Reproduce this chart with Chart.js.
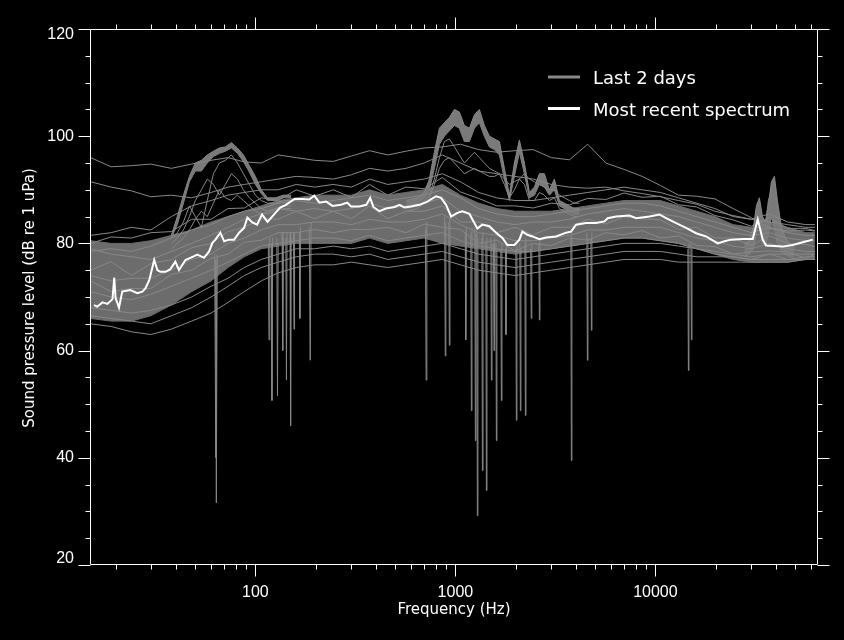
<!DOCTYPE html>
<html><head><meta charset="utf-8">
<script src="https://cdn.jsdelivr.net/npm/chart.js@4.4.1/dist/chart.umd.min.js"></script>
<style>html,body{margin:0;padding:0;background:#000;}#wrap{width:844px;height:640px;}</style>
</head><body><div id="wrap"><canvas id="c" width="844" height="640"></canvas></div>
<script>
// ---------- axis ticks ----------
const xTickValues = [100, 1000, 10000];
const xTickLabels = ['100', '1000', '10000'];
const yTickValues = [20, 40, 60, 80, 100, 120];
const yTickLabels = ['20', '40', '60', '80', '100', '120'];
const xTitle = 'Frequency (Hz)';
const yTitle = 'Sound pressure level (dB re 1 uPa)';
const legendLabels = ['Last 2 days', 'Most recent spectrum'];

// ---------- most recent spectrum ----------
const recentFreq = [15.6, 16.2, 17.2, 18.2, 19.3, 19.7, 20.0, 20.8, 21.6, 23.7, 25.7, 27.2, 28.2, 29.5, 31.2, 32.4, 33.5, 35.5, 37.6, 39.8, 41.5, 44.7, 47.3, 51.3, 55.4, 58.7, 61, 63.1, 66.8, 69.8, 73.9, 78.3, 82.9, 87.8, 91.2, 96.6, 102, 108, 115, 126, 133, 142, 157, 172, 186, 197, 209, 226, 243, 268, 288, 301, 331, 359, 375, 389, 417, 450, 496, 525, 556, 600, 661, 724, 801, 848, 898, 952, 1023, 1084, 1175, 1288, 1365, 1479, 1598, 1718, 1820, 1972, 2089, 2163, 2291, 2427, 2630, 2841, 3188, 3577, 3789, 4014, 4503, 5052, 5559, 5774, 6361, 7413, 8009, 9333, 10470, 11310, 12690, 14240, 15980, 17930, 20490, 22130, 23910, 27330, 30660, 32480, 34410, 35780, 43300, 48590, 54530, 61180];
const recentLevel = [68.5, 68.2, 69, 68.7, 69.6, 73.6, 69.8, 68, 71, 71.3, 70.7, 71, 71.6, 73.2, 76.9, 75, 74.7, 74.7, 75.2, 76.6, 75, 76.9, 77.3, 77.9, 77.3, 78.5, 80.1, 80.7, 82, 80.4, 80.7, 80.7, 82, 82.9, 84.8, 83.9, 83.5, 85.4, 84, 85.7, 86.7, 87.2, 88.3, 88.3, 88.2, 88.9, 87.6, 87.8, 87, 87.2, 87.6, 86.9, 86.9, 87.2, 88.5, 86.8, 86, 86.5, 86.8, 87.2, 86.7, 86.9, 87.2, 87.8, 88.8, 88.5, 87.2, 85, 85.7, 86, 85.5, 82.8, 83.5, 83.2, 82, 81, 79.7, 79.7, 80.7, 82.2, 81.6, 81.3, 80.8, 81.1, 81.3, 82, 82.2, 83.5, 83.8, 83.8, 84.1, 84.7, 85, 85.2, 84.7, 85, 85.4, 84.7, 83.8, 82.9, 81.9, 81.3, 80, 80.4, 80.7, 80.8, 80.8, 84.5, 80.7, 79.6, 79.4, 79.7, 80.2, 80.7];

// ---------- last 2 days: broadband spectra on a common grid ----------
const gridFreq = [15, 19, 24, 30, 38, 48, 60, 73, 88, 107, 130, 160, 198, 245, 302, 372, 459, 566, 698, 860, 1060, 1307, 1611, 1986, 2448, 3018, 3720, 4586, 5653, 6968, 8590, 10590, 13050, 16090, 19840, 24460, 30150, 37170, 45820, 56490, 62720];
const dayA = [96, 94.3, 94.5, 94.8, 94, 94.8, 95.5, 96, 95.2, 95, 96.5, 96, 95.5, 95.3, 96.3, 97.3, 96.5, 97.2, 97.8, 98, 98.5, 97.5, 97, 97.3, 97.5, 96, 95.6, 98.5, 95, 93.8, 92.5, 90.8, 89, 88.8, 88.3, 86.5, 84.8, 82.8, 82.3, 82.5, 82.3];
const dayB = [91.5, 90.5, 89.8, 88.7, 89, 88.5, 89.5, 90.5, 91, 91.5, 92, 92.5, 92.3, 92, 92.8, 94, 93.5, 94, 95, 96.5, 95, 93.5, 93, 92.5, 92, 91, 90.5, 90.3, 90.5, 89.8, 89.3, 88.7, 88, 87.3, 86, 85.2, 84.5, 84, 83.5, 83, 83];
const dayU1 = [81.5, 82, 83, 82.5, 85, 87, 88, 89, 89.5, 90, 90, 91, 90.5, 91, 90.5, 92, 91, 91.5, 92, 93, 91.5, 89.5, 88.5, 88, 88, 88.5, 89, 89.5, 90, 90.5, 90, 89.5, 88.5, 87.5, 86.5, 85, 84.5, 85.5, 84, 83.5, 83.5];
const dayM1 = [80, 81.2, 81, 82, 82.2, 84.5, 84.5, 86.5, 86.6, 88.5, 88, 90, 88.8, 90, 88.6, 91, 89, 90.5, 90.2, 92.3, 89.6, 88.4, 87, 87, 86.6, 87.5, 87.2, 88.4, 88.2, 89.4, 88.6, 88.8, 87.2, 86.8, 85.2, 84.4, 83.2, 84.8, 82.8, 82.8, 82.4];
const dayM2 = [78.5, 79, 78.5, 79.5, 81, 82.5, 83.5, 85, 86, 86.5, 87.5, 88, 87.5, 88, 88.5, 89, 88, 88.5, 89, 90, 88.5, 86.5, 85.5, 85, 85, 85.5, 86, 86.5, 87, 87.5, 87.5, 87, 86, 85, 84, 83, 82, 83, 82, 81.5, 81.5];
const dayM3 = [79, 78, 77.5, 77, 78.5, 80, 81.5, 83, 84.5, 85.5, 86.5, 86, 86.5, 86, 86.5, 87.5, 86.5, 87, 87.5, 88.5, 86, 85, 84, 83.5, 84, 84, 84.5, 85.5, 86, 86.5, 86, 85.5, 85, 84, 83, 82, 81.5, 82, 81, 80.5, 80.5];
const dayM4 = [75, 76.6, 74, 76.2, 77, 79.2, 80, 82.2, 83, 84.6, 84.5, 86, 84.6, 86, 84.6, 87, 84.6, 86, 86, 87, 84, 84, 82, 83, 81.6, 83, 83, 84.5, 83.6, 85, 84.6, 84.4, 82.6, 83, 81, 81, 79.6, 81.4, 80, 79.8, 79.4];
const dayM5 = [74, 73, 73.5, 73.5, 75, 77, 78, 80, 81, 82.5, 83.5, 83.5, 84, 84, 83.5, 84.5, 84, 84, 84.5, 85.5, 83.5, 82, 81.5, 80.5, 80.5, 81, 81.5, 82.5, 82.5, 83, 83, 83, 82, 81, 80.5, 79.5, 79, 80, 79, 78.5, 78.5];
const dayM6 = [73, 71, 71.6, 71.6, 74.2, 75, 77.2, 78, 80.2, 80.6, 82, 82, 82.6, 82, 82.6, 82.6, 83, 82, 83.6, 83, 82.6, 80, 80.6, 78.6, 80, 79.6, 81, 80.6, 82, 81.6, 82.4, 81, 81.4, 79.6, 79.4, 78, 78.4, 78.6, 78.4, 77.2, 78];
const dayM7 = [71, 70, 69.5, 70.5, 72, 73.5, 75, 76.5, 78, 79.5, 80, 80.5, 81, 81, 80.5, 81.5, 80.5, 81, 81.5, 82, 80.5, 79.5, 79, 78.5, 78.5, 79, 79.5, 80, 80.5, 81, 81, 80.5, 80, 79, 78, 77.5, 77, 78, 77, 77, 77];
const dayL1 = [65, 64.5, 63.5, 63, 64, 65.5, 67, 69, 71, 73, 74.5, 75.5, 76, 76, 76.5, 76, 75.5, 76, 76.5, 77, 76, 75, 74.5, 74, 74.5, 75, 75.5, 76, 76.5, 77, 77, 77, 76.5, 76.5, 76.5, 76.5, 76.5, 76.5, 76.5, 77, 77];
const dayL2 = [66.5, 66, 65.5, 65, 66.5, 68, 70, 72, 74, 75.5, 76.5, 77.5, 78, 78, 77.5, 78, 77, 77.5, 78, 78.5, 77.5, 76.5, 76, 75.5, 76, 76.5, 77, 77.5, 78, 78.5, 78.5, 78.5, 78, 77.5, 77.5, 77.5, 77, 77, 77, 77.5, 77.5];
const dayL3 = [68, 67.5, 67, 67.5, 68.5, 70, 72, 73.5, 75.5, 77, 78, 79, 79, 79.5, 79, 79.5, 78.5, 79, 79.5, 80, 79, 78, 77.5, 77, 77.5, 78, 78.5, 79, 79.5, 80, 80, 80, 79.5, 79, 78.5, 78, 77.5, 78, 78, 78, 78];
const bandTop = [80.5, 80, 80, 80.5, 81.5, 82.5, 84, 85, 86, 87, 88, 88.5, 89, 89, 89, 90, 89, 89.5, 90, 91, 89, 87.5, 86.5, 86, 86, 86, 86.5, 87, 87.5, 88, 88, 88, 87, 86, 85, 83.5, 83, 84, 83, 82, 82];
const bandBottom = [66, 65.5, 65.5, 66.5, 68.5, 71, 73, 75.5, 77.5, 79, 79.5, 80, 80, 80, 80, 81, 80, 80.5, 81, 80, 79.5, 79, 78.5, 78, 78.5, 79, 79.5, 80, 80.5, 81, 81, 80.5, 80, 79, 78, 77, 76.5, 76.5, 76.5, 77, 77];

// ---------- 60-90 Hz hump ----------
const humpFreq = [38, 40.7, 43.7, 46.8, 50.1, 53.7, 57.5, 61.7, 66.1, 70.8, 75.9, 81.3, 87.1, 93.3, 100, 107, 115, 126, 138, 151];
const humpH1 = [81.5, 85, 89, 92.5, 95, 95.5, 96.5, 97.2, 97.8, 98, 98.8, 97.8, 96.5, 94.5, 92.5, 90, 88.5, 88.5, 89, 89];
const humpH2 = [81, 83.5, 87.5, 91.5, 93.5, 93.5, 95, 96.2, 96.8, 97.2, 97.8, 96.8, 95.3, 93.3, 91, 89.3, 88, 88, 88.5, 88.5];
const humpH3 = [81, 82, 84, 87, 85, 83, 88, 93, 95, 95.5, 96.5, 95, 93, 91, 89, 88, 87.5, 87.5, 88, 88];
const humpH4 = [80, 81, 82.5, 85, 88, 90, 92, 91, 89, 91, 93, 92, 90, 88.5, 87.5, 86.5, 86, 86.5, 87, 87];
const humpH5 = [79, 80, 81, 82.5, 84.5, 86, 85, 87.5, 90, 88.5, 88, 89, 88, 87, 86, 85.5, 85.5, 86, 86.5, 86.5];

// ---------- 0.6-4 kHz hump ----------
const midFreq = [569, 646, 700, 741, 785, 832, 881, 933, 989, 1047, 1109, 1175, 1245, 1318, 1396, 1479, 1567, 1660, 1758, 1862, 1972, 2089, 2213, 2344, 2483, 2630, 2786, 2951, 3126, 3311, 3508, 3715, 3936, 4169];
const midW1 = [88, 88.5, 89.5, 92, 97, 101.5, 102.5, 103.5, 105, 104.5, 102, 101.5, 104, 105, 102, 100, 99.5, 99, 94, 89, 95, 99.3, 95, 89.5, 90.5, 93, 93, 90, 92, 88, 87.5, 87, 86.5, 86.5];
const midW2 = [87.5, 88, 89, 91, 95.5, 100.5, 102, 103, 104, 103.5, 101, 100.5, 103, 104, 101, 99, 98.5, 98, 93, 88.5, 94, 98.5, 94, 89, 90, 92, 92, 89.5, 91, 87.5, 87, 86.5, 86, 86];
const midW3 = [87, 87.5, 88.5, 90, 94, 98.5, 100, 101, 102, 101.5, 99, 99, 101.5, 102.5, 100, 98, 97.5, 96.5, 92, 88, 92.5, 97, 93, 88.5, 89, 91, 90.5, 89, 90, 87, 86.5, 86, 85.5, 85.5];
const midW4 = [86.5, 87, 88, 89, 92, 96, 99, 99.5, 98, 96.5, 95, 96, 97, 96, 95, 94, 93.5, 93, 91, 88.5, 90, 92, 91, 88, 88, 89.5, 89, 88, 88.5, 86.5, 86, 85.5, 85, 85];
const midW5 = [86, 86.5, 87.5, 88.5, 91, 94, 95.5, 96, 95, 94, 93, 93.5, 94, 93.5, 93, 92.5, 92.5, 93, 92, 91, 91.5, 92, 93, 92, 91.5, 91, 90.5, 90, 90, 89, 88.5, 88, 87.5, 87.5];

// ---------- 30-50 kHz tonal peak ----------
const spikeFreq = [27860, 29510, 30900, 31990, 33110, 34280, 35480, 36730, 38020, 39360, 40740, 42660, 44670, 46770, 49550];
const spikeS1 = [80, 80.5, 83, 87, 88.5, 85, 84, 87, 91.5, 92.5, 88, 83, 81, 80, 79.5];
const spikeS2 = [79.5, 80, 82, 86, 87.5, 83, 83.5, 88, 90, 89, 85, 81, 80, 79.5, 79];
const spikeS3 = [78.5, 79, 80.5, 84, 86, 82, 82, 85, 88, 86, 82.5, 80, 79, 78.5, 78.5];
const spikeS4 = [77.5, 78, 79, 82, 84, 80, 79.5, 82, 85, 83, 80, 78.5, 78, 77.5, 77.5];

// ---------- narrow dropouts (null = break) ----------
const dipFreq = [63.2, 63.8, 64.4, 64, 62.6, 63.4, 64.2, 64, 120, 121, 122, 122, 128, 129, 130, 130, 136, 137, 138, 138, 142, 143, 144, 144, 149, 150, 151, 151, 186, 188, 190, 190, 116, 117, 118, 118, 155, 156, 157, 157, 166, 167, 168, 168, 708, 714, 720, 720, 884, 890, 896, 896, 927, 933, 939, 939, 1120, 1127, 1134, 1134, 1194, 1202, 1210, 1210, 1251, 1259, 1267, 1267, 1280, 1288, 1296, 1296, 1356, 1365, 1374, 1374, 1420, 1429, 1438, 1438, 1504, 1514, 1524, 1524, 1550, 1560, 1570, 1570, 1593, 1603, 1613, 1613, 1687, 1698, 1709, 1709, 1780, 1790, 1800, 1800, 2005, 2018, 2031, 2031, 2100, 2113, 2126, 2126, 2225, 2239, 2253, 2253, 2380, 2395, 2410, 2410, 2614, 2630, 2646, 2646, 3778, 3801, 3824, 3824, 4544, 4571, 4598, 4598, 4757, 4786, 4815, 4815, 14530, 14620, 14710, 14710, 15050, 15140, 15230];
const dipLevel = [77, 31.6, 78, null, 78, 40, 77, null, 80, 50.7, 81, null, 81, 51.6, 80, null, 82, 60, 81, null, 81, 54.5, 82, null, 82, 46, 81, null, 83, 58.2, 84, null, 80, 62, 81, null, 82, 64, 82, null, 82, 66, 83, null, 83, 54.5, 84, null, 85, 59, 84, null, 84, 61, 85, null, 82, 62, 83, null, 82, 48.8, 83, null, 83, 43.2, 82, null, 82, 29.2, 81, null, 81, 37.6, 82, null, 80, 33.9, 81, null, 81, 54.5, 80, null, 80, 60, 81, null, 80, 43.2, 79, null, 79, 50.7, 80, null, 79, 63, 80, null, 79, 47, 80, null, 80, 48.8, 79, null, 80, 47.9, 81, null, 79, 66, 80, null, 80, 65.7, 81, null, 81, 39.5, 82, null, 82, 58.2, 81, null, 81, 63.8, 82, null, 79, 56.3, 80, null, 80, 62, 79];

// ---------- build ----------
const GRAY = '#888888';
const FILLGRAY = '#6c6c6c';
function pts(fr, vals) { return fr.map((f, i) => ({ x: f, y: vals[i] })); }
function line(label, fr, vals, extra) {
  return Object.assign({ label: label, data: pts(fr, vals), borderColor: GRAY, backgroundColor: FILLGRAY, borderWidth: 1, pointRadius: 0, tension: 0, fill: false, spanGaps: false }, extra || {});
}
const datasets = [
  line(legendLabels[1], recentFreq, recentLevel, { borderColor: '#ffffff', borderWidth: 2 }),
  line(legendLabels[0], gridFreq, dayA),
  line('b', gridFreq, dayB),
  line('u1', gridFreq, dayU1),
  line('m1', gridFreq, dayM1),
  line('m2', gridFreq, dayM2),
  line('m3', gridFreq, dayM3),
  line('m4', gridFreq, dayM4),
  line('m5', gridFreq, dayM5),
  line('m6', gridFreq, dayM6),
  line('m7', gridFreq, dayM7),
  line('l1', gridFreq, dayL1),
  line('l2', gridFreq, dayL2),
  line('l3', gridFreq, dayL3),
  line('w4', midFreq, midW4),
  line('w5', midFreq, midW5),
  line('h3', humpFreq, humpH3),
  line('h4', humpFreq, humpH4),
  line('h5', humpFreq, humpH5),
  line('dips', dipFreq, dipLevel),
  line('h1', humpFreq, humpH1, { fill: '+1', backgroundColor: '#7a7a7a' }),
  line('h2', humpFreq, humpH2),
  line('w1', midFreq, midW1, { fill: '+2', backgroundColor: '#7a7a7a' }),
  line('w2', midFreq, midW2),
  line('w3', midFreq, midW3),
  line('s1', spikeFreq, spikeS1, { fill: '+3', backgroundColor: '#7a7a7a' }),
  line('s2', spikeFreq, spikeS2),
  line('s3', spikeFreq, spikeS3),
  line('s4', spikeFreq, spikeS4),
  line('bandTop', gridFreq, bandTop, { fill: '+1', backgroundColor: FILLGRAY, borderColor: FILLGRAY }),
  line('bandBottom', gridFreq, bandBottom, { borderColor: FILLGRAY })
];

const axesPlugin = {
  id: 'axesPlugin',
  afterDraw(chart) {
    const ctx = chart.ctx, a = chart.chartArea, xs = chart.scales.x, ys = chart.scales.y;
    ctx.save();
    ctx.strokeStyle = '#ffffff';
    ctx.fillStyle = '#ffffff';
    ctx.lineWidth = 1;
    const L = Math.round(a.left) + 0.5, R = Math.round(a.right) - 0.5;
    const T = Math.round(a.top) + 0.5, B = Math.round(a.bottom) - 0.5;
    ctx.beginPath();
    ctx.moveTo(L, T); ctx.lineTo(R, T); ctx.lineTo(R, B); ctx.lineTo(L, B); ctx.closePath();
    ctx.stroke();
    // x ticks (top & bottom, outward)
    ctx.beginPath();
    for (let d = 10; d <= 10000; d *= 10) {
      for (let m = 1; m <= 9; m++) {
        const v = m * d;
        if (v < xs.min || v > xs.max) continue;
        const px = Math.round(xs.getPixelForValue(v)) + 0.5;
        const len = (m === 1) ? 12 : 5;
        ctx.moveTo(px, B); ctx.lineTo(px, B + len);
        ctx.moveTo(px, T); ctx.lineTo(px, T - len);
      }
    }
    // y ticks (left & right, outward)
    for (let v = 20; v <= 120; v += 5) {
      const py = Math.round(ys.getPixelForValue(v)) + 0.5;
      const len = (v % 20 === 0) ? 12 : 5;
      ctx.moveTo(L, py); ctx.lineTo(L - len, py);
      ctx.moveTo(R, py); ctx.lineTo(R + len, py);
    }
    ctx.stroke();
    // tick labels
    ctx.font = '16px "Liberation Sans", Arial, sans-serif';
    ctx.textAlign = 'center'; ctx.textBaseline = 'middle';
    xTickValues.forEach((v, i) => {
      ctx.fillText(xTickLabels[i], xs.getPixelForValue(v), 593);
    });
    ctx.textAlign = 'right';
    yTickValues.forEach((v, i) => {
      let py = ys.getPixelForValue(v);
      py = Math.max(a.top + 6, Math.min(a.bottom - 6, py));
      ctx.fillText(yTickLabels[i], 74, py);
    });
    // titles
    ctx.font = '15px "DejaVu Sans", sans-serif';
    ctx.textAlign = 'center';
    ctx.fillText(xTitle, (a.left + a.right) / 2, 610);
    ctx.save();
    ctx.translate(30, 298);
    ctx.rotate(-Math.PI / 2);
    ctx.fillText(yTitle, 0, 0);
    ctx.restore();
    // legend
    ctx.lineWidth = 3;
    ctx.strokeStyle = GRAY;
    ctx.beginPath(); ctx.moveTo(548, 77); ctx.lineTo(580, 77); ctx.stroke();
    ctx.strokeStyle = '#ffffff';
    ctx.beginPath(); ctx.moveTo(548, 108.5); ctx.lineTo(580, 108.5); ctx.stroke();
    ctx.font = '18px "DejaVu Sans", sans-serif';
    ctx.textAlign = 'left'; ctx.textBaseline = 'alphabetic';
    ctx.fillText(legendLabels[0], 593, 83.5);
    ctx.fillText(legendLabels[1], 593, 115.5);
    ctx.restore();
  }
};

const bgPlugin = {
  id: 'bg',
  beforeDraw(chart) {
    const ctx = chart.ctx;
    ctx.save(); ctx.fillStyle = '#000'; ctx.fillRect(0, 0, chart.width, chart.height); ctx.restore();
  }
};

new Chart(document.getElementById('c'), {
  type: 'line',
  data: { datasets: datasets },
  options: {
    responsive: false,
    animation: false,
    devicePixelRatio: 1,
    layout: { padding: { left: 90, right: 26, top: 29, bottom: 75 } },
    plugins: { legend: { display: false }, tooltip: { enabled: false }, filler: { propagate: false } },
    scales: {
      x: { type: 'logarithmic', min: 14.9, max: 65000, display: false },
      y: { type: 'linear', min: 20, max: 120, display: false }
    }
  },
  plugins: [bgPlugin, axesPlugin]
});
</script>
</body></html>
